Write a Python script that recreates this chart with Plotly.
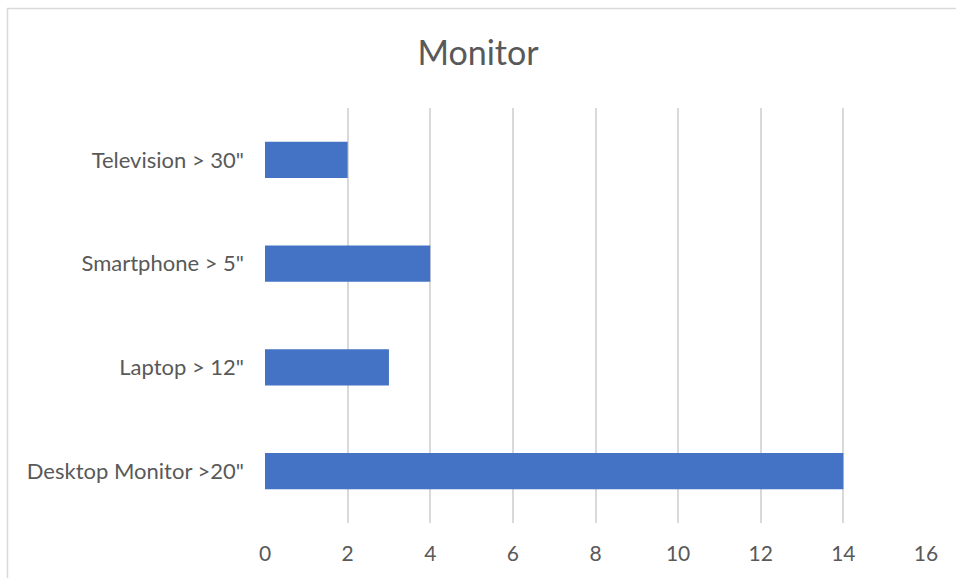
import plotly.graph_objects as go

categories = ['Desktop Monitor >20"', 'Laptop > 12"', 'Smartphone > 5"', 'Television > 30"']
values = [14, 3, 4, 2]
x_ticks = [0, 2, 4, 6, 8, 10, 12, 14, 16]

W, H = 956, 578
fig = go.Figure(go.Bar(
    y=categories, x=values, orientation="h",
    marker=dict(color="#4472C4", line=dict(width=0)),
    width=0.35,
))

fig.update_layout(
    width=W, height=H,
    paper_bgcolor="white", plot_bgcolor="white",
    margin=dict(l=265, r=30, t=108, b=55),
    font=dict(family="Lato, Open Sans, sans-serif", color="#595959", size=21),
    title=dict(text="Monitor", x=0.5, xanchor="center", y=1 - 53 / H, yanchor="middle",
               font=dict(size=34, color="#595959")),
    showlegend=False,
    shapes=[dict(type="rect", xref="paper", yref="paper",
                 x0=-(265 - 7.5) / (W - 295), x1=1 + (30 + 4) / (W - 295),
                 y0=-(55 + 4) / (H - 163), y1=1 + (108 - 8.5) / (H - 163),
                 line=dict(color="#d9d9d9", width=1.5), layer="below")],
)
fig.update_xaxes(range=[0, 16], tickvals=x_ticks, showgrid=True, gridcolor="#d9d9d9",
                 gridwidth=1.5, zeroline=False, showline=False, ticks="",
                 ticklabelstandoff=16, tickfont=dict(size=21))
fig.update_yaxes(categoryorder="array", categoryarray=categories, showgrid=False,
                 zeroline=False, showline=False, ticks="", ticklabelstandoff=20,
                 tickfont=dict(size=22))
fig.write_html("out.html", config={"displayModeBar": False},
               post_script="document.body.style.margin='0';")
